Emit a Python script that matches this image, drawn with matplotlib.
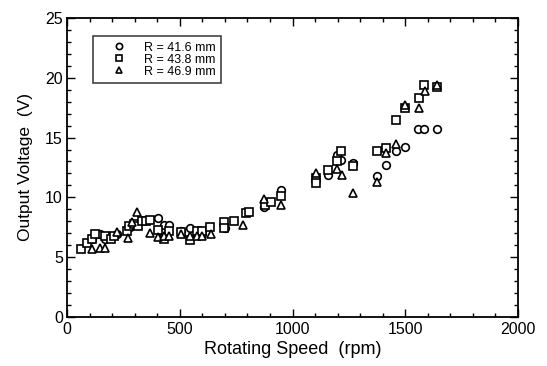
import matplotlib
matplotlib.use("Agg")
import matplotlib.pyplot as plt
from matplotlib.ticker import MultipleLocator

plt.rcParams['font.family'] = ['Liberation Sans', 'DejaVu Sans']

# R = 41.6 mm (circles)
rpm_416 = [110, 148, 170, 222, 280, 403, 430, 452, 504, 544, 600, 700, 874, 948,
           1158, 1199, 1217, 1268, 1376, 1413, 1457, 1497, 1556, 1583, 1639]
volt_416 = [6.5, 6.9, 6.5, 6.9, 7.5, 8.3, 7.7, 7.7, 7.2, 7.4, 6.9, 7.4, 9.2, 10.6,
            11.9, 13.5, 13.1, 12.9, 11.8, 12.7, 13.9, 14.2, 15.7, 15.7, 15.7]

# R = 43.8 mm (squares)
rpm_438 = [62, 89, 111, 126, 170, 193, 207, 267, 274, 296, 313, 333, 350, 370,
           403, 430, 452, 504, 544, 578, 600, 633, 696, 696, 741, 793, 807, 877,
           904, 948, 1103, 1103, 1158, 1199, 1217, 1268, 1376, 1413, 1457, 1497,
           1560, 1583, 1642]
volt_438 = [5.7, 6.2, 6.5, 6.9, 6.8, 6.5, 6.8, 7.2, 7.6, 7.8, 7.6, 8.0, 8.0, 8.1,
            7.3, 6.5, 7.2, 7.1, 6.4, 7.2, 7.2, 7.5, 7.9, 7.4, 8.0, 8.7, 8.8, 9.4,
            9.6, 10.1, 11.6, 11.2, 12.3, 13.0, 13.9, 12.6, 13.9, 14.1, 16.5, 17.5,
            18.3, 19.4, 19.2]

# R = 46.9 mm (triangles)
rpm_469 = [111, 148, 170, 222, 271, 289, 311, 366, 403, 430, 452, 504, 544, 578,
           600, 637, 782, 874, 948, 1103, 1199, 1218, 1268, 1376, 1413, 1457,
           1497, 1560, 1586, 1642]
volt_469 = [5.7, 5.8, 5.8, 7.1, 6.6, 7.9, 8.8, 7.0, 6.7, 6.8, 6.8, 6.9, 6.8, 6.8,
            6.8, 6.9, 7.7, 9.9, 9.4, 12.0, 12.4, 11.9, 10.4, 11.3, 13.7, 14.5,
            17.7, 17.5, 18.9, 19.4]

fig = plt.figure(figsize=(5.47, 3.66), dpi=100)
ax = fig.add_axes([0.1225, 0.134, 0.8245, 0.817])

style = dict(linestyle='none', markerfacecolor='white', markeredgecolor='black',
             markeredgewidth=1.2, markersize=5.5)
ax.plot(rpm_416, volt_416, marker='o', label='R = 41.6 mm', **style)
ax.plot(rpm_438, volt_438, marker='s', label='R = 43.8 mm', **style)
ax.plot(rpm_469, volt_469, marker='^', label='R = 46.9 mm', **style)

ax.set_xlim(0, 2000)
ax.set_ylim(0, 25)
ax.xaxis.set_major_locator(MultipleLocator(500))
ax.xaxis.set_minor_locator(MultipleLocator(100))
ax.yaxis.set_major_locator(MultipleLocator(5))
ax.yaxis.set_minor_locator(MultipleLocator(1))
ax.tick_params(which='both', direction='in', top=True, right=True, labelsize=11.5)
ax.tick_params(which='major', length=6, width=1)
ax.tick_params(which='minor', length=3, width=1)
ax.tick_params(axis='y', pad=3)
for s in ax.spines.values():
    s.set_linewidth(1.3)

ax.set_xlabel('Rotating Speed  (rpm)', fontsize=13, labelpad=3)
ax.set_ylabel('Output Voltage  (V)', fontsize=12.5, labelpad=9)

leg = ax.legend(loc='upper left', bbox_to_anchor=(0.058, 0.94), fontsize=9,
                frameon=True, fancybox=False, handletextpad=0.3, borderpad=0.45,
                labelspacing=0.0, handlelength=3.3, borderaxespad=0)
leg.get_frame().set_edgecolor('black')
leg.get_frame().set_linewidth(1.1)
for h in leg.legend_handles:
    h.set_markersize(4.5)

fig.savefig('out.png', dpi=100)
